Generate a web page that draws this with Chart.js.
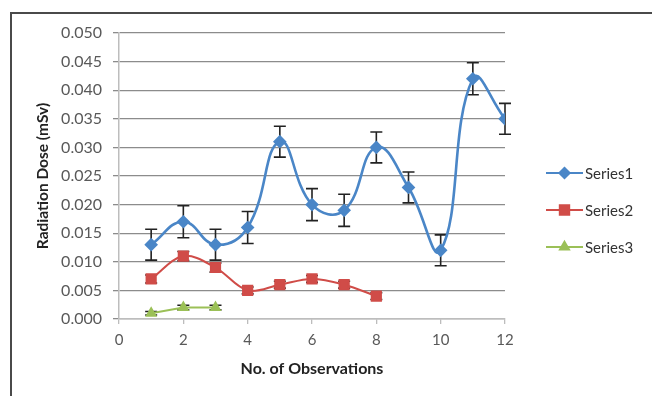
<!DOCTYPE html>
<html>
<head>
<meta charset="utf-8">
<script src="https://cdn.jsdelivr.net/npm/chart.js@4.4.1/dist/chart.umd.min.js"></script>
<style>
  body { margin: 0; background: #fff; }
  #wrap { position: relative; width: 652px; height: 396px; overflow: hidden; }
  #frame { position: absolute; left: 10px; top: 12px; width: 700px; height: 500px;
           border-top: 2px solid #4a4a4a; border-left: 2px solid #4a4a4a; }
  canvas { position: absolute; left: 0; top: 0; }
</style>
</head>
<body>
<div id="wrap">
  <div id="frame"></div>
  <canvas id="chart" width="652" height="396"></canvas>
</div>
<script>
const obs1 = [1, 2, 3, 4, 5, 6, 7, 8, 9, 10, 11, 12];
const series1 = [0.013, 0.017, 0.013, 0.016, 0.031, 0.020, 0.019, 0.030, 0.023, 0.012, 0.042, 0.035];
const series1Err = [0.0027, 0.0028, 0.0027, 0.0028, 0.0027, 0.0028, 0.0028, 0.0027, 0.0027, 0.0027, 0.0028, 0.0027];
const obs2 = [1, 2, 3, 4, 5, 6, 7, 8];
const series2 = [0.007, 0.011, 0.009, 0.005, 0.006, 0.007, 0.006, 0.004];
const series2Err = [0.0007, 0.0008, 0.0008, 0.0006, 0.0006, 0.0006, 0.0006, 0.0006];
const obs3 = [1, 2, 3];
const series3 = [0.001, 0.002, 0.002];
const series3Err = [0.0003, 0.0004, 0.0004];
const seriesNames = ['Series1', 'Series2', 'Series3'];
const yTicks = [0, 0.005, 0.010, 0.015, 0.020, 0.025, 0.030, 0.035, 0.040, 0.045, 0.050];

const font = 'Lato, "Open Sans", sans-serif';

function pts(xs, ys) {
  return xs.map((x, i) => ({ x: x, y: ys[i] }));
}

// vertical error bars with caps, under the lines and markers
const errorBars = {
  id: 'errorBars',
  beforeDatasetsDraw(chart) {
    const ctx = chart.ctx;
    const xs = chart.scales.x, ys = chart.scales.y;
    chart.data.datasets.forEach((ds) => {
      if (!ds.errors) return;
      ctx.save();
      ctx.strokeStyle = '#222';
      ctx.lineWidth = 1.6;
      ds.data.forEach((p, i) => {
        const e = ds.errors[i];
        const px = xs.getPixelForValue(p.x);
        const top = ys.getPixelForValue(p.y + e);
        const bot = ys.getPixelForValue(p.y - e);
        ctx.beginPath();
        ctx.moveTo(px, top); ctx.lineTo(px, bot);
        ctx.moveTo(px - 6, top); ctx.lineTo(px + 6, top);
        ctx.moveTo(px - 6, bot); ctx.lineTo(px + 6, bot);
        ctx.stroke();
      });
      ctx.restore();
    });
  }
};

// legend on the right: line with marker through it, then the name
const sideLegend = {
  id: 'sideLegend',
  afterDraw(chart) {
    const ctx = chart.ctx;
    const x0 = 546, x1 = 583;
    const rows = [173, 210, 247];
    chart.data.datasets.forEach((ds, i) => {
      const y = rows[i];
      ctx.save();
      ctx.strokeStyle = ds.borderColor;
      ctx.lineWidth = 2.2;
      ctx.beginPath(); ctx.moveTo(x0, y); ctx.lineTo(x1, y); ctx.stroke();
      ctx.fillStyle = ds.pointBackgroundColor;
      ctx.strokeStyle = ds.pointBackgroundColor;
      Chart.helpers.drawPoint(ctx, {
        pointStyle: ds.pointStyle, radius: ds.pointRadius, borderWidth: 1
      }, (x0 + x1) / 2, y);
      ctx.fillStyle = '#333';
      ctx.font = '15px ' + font;
      ctx.textBaseline = 'middle';
      ctx.fillText(ds.label, x1 + 2, y + 1);
      ctx.restore();
    });
  }
};

new Chart(document.getElementById('chart'), {
  type: 'line',
  data: {
    datasets: [
      {
        label: seriesNames[0], data: pts(obs1, series1), errors: series1Err,
        borderColor: '#4a86c7', backgroundColor: '#4a86c7',
        pointBackgroundColor: '#4a86c7', pointBorderColor: '#4a86c7',
        pointStyle: 'rectRot', pointRadius: 5, borderWidth: 2.6, tension: 0.45
      },
      {
        label: seriesNames[1], data: pts(obs2, series2), errors: series2Err,
        borderColor: '#d04c48', backgroundColor: '#d04c48',
        pointBackgroundColor: '#d04c48', pointBorderColor: '#d04c48',
        pointStyle: 'rect', pointRadius: 6.5, borderWidth: 2, tension: 0.35
      },
      {
        label: seriesNames[2], data: pts(obs3, series3), errors: series3Err,
        borderColor: '#9bc057', backgroundColor: '#9bc057',
        pointBackgroundColor: '#9bc057', pointBorderColor: '#9bc057',
        pointStyle: 'triangle', pointRadius: 5, borderWidth: 2, tension: 0
      }
    ]
  },
  options: {
    responsive: false,
    animation: false,
    layout: { padding: { left: 30, top: 33, right: 147, bottom: 18 } },
    plugins: { legend: { display: false }, tooltip: { enabled: false } },
    elements: { line: { capBezierPoints: false } },
    scales: {
      x: {
        type: 'linear', min: 0, max: 12,
        afterFit(s) { s.height = 59; },
        ticks: { stepSize: 2, padding: 7, color: '#595959', font: { family: font, size: 15 } },
        grid: { drawOnChartArea: false, tickLength: 5, color: '#bdbdbd', lineWidth: 1.3 },
        border: { color: '#bdbdbd', width: 1.5 },
        title: { display: true, text: 'No. of Observations', color: '#222',
                 font: { family: font, size: 16, weight: 'bold' }, padding: { top: 0, bottom: 0 } }
      },
      y: {
        min: 0, max: 0.05,
        afterFit(s) { s.width = 89; },
        afterBuildTicks(s) { s.ticks = yTicks.map(v => ({ value: v })); },
        ticks: { padding: 11, color: '#595959', font: { family: font, size: 16 },
                 callback: v => v.toFixed(3) },
        grid: { tickLength: 6, color: '#8c8c8c', lineWidth: 1.3 },
        border: { color: '#bdbdbd', width: 1.5 },
        title: { display: true, text: 'Radiation Dose (mSv)', color: '#222',
                 font: { family: font, size: 15.5, weight: 'bold' }, padding: { top: 4, bottom: 0 } }
      }
    }
  },
  plugins: [errorBars, sideLegend]
});
</script>
</body>
</html>
